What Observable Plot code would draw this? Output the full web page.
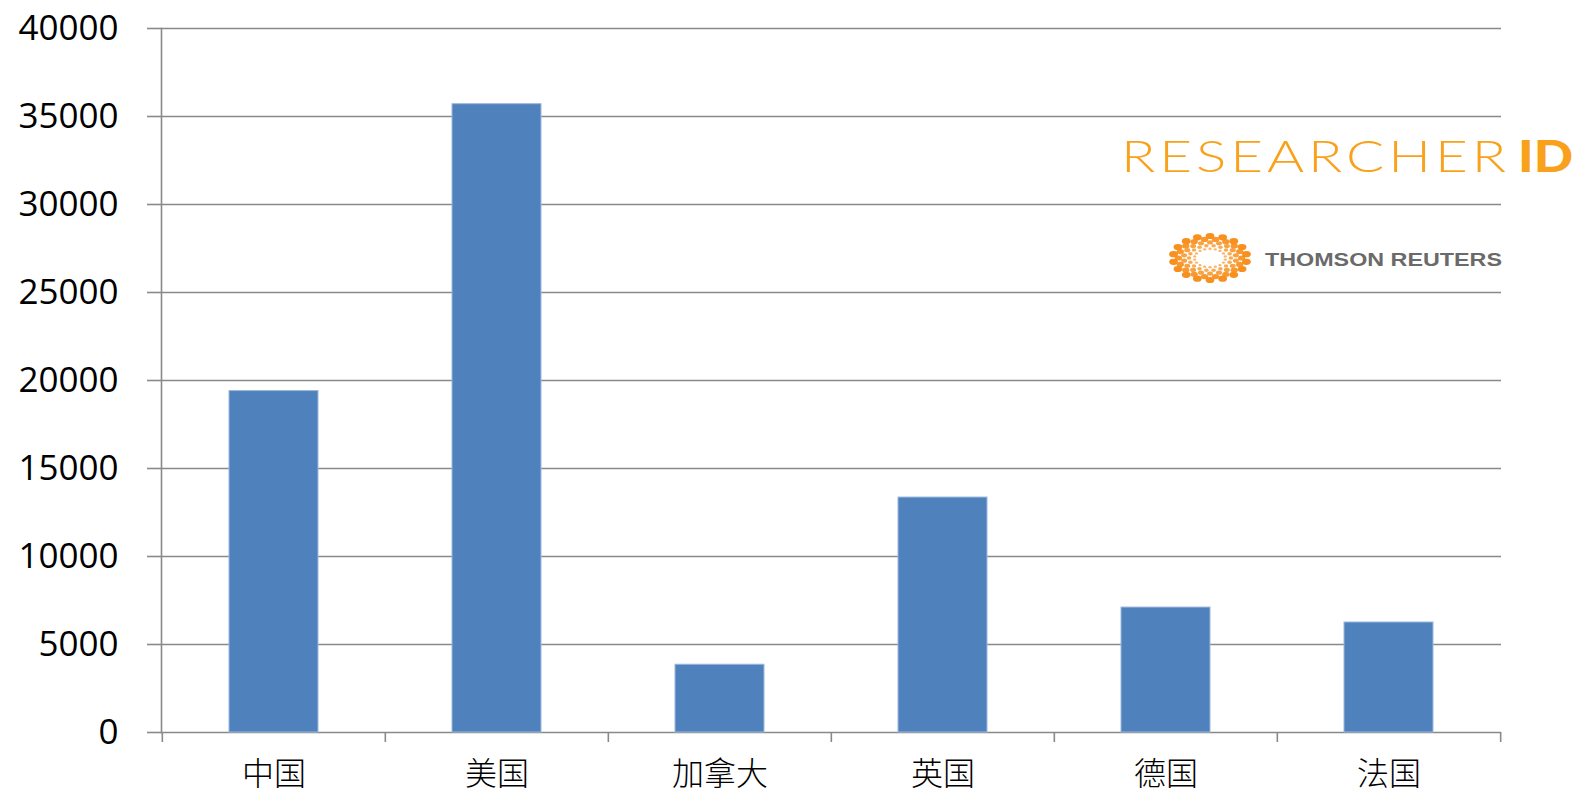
<!DOCTYPE html>
<html>
<head>
<meta charset="utf-8">
<script src="https://cdn.jsdelivr.net/npm/d3@7"></script>
<script src="https://cdn.jsdelivr.net/npm/@observablehq/plot@0.6"></script>
<style>
  html, body { margin: 0; padding: 0; background: #fff; }
  #wrap { position: relative; width: 1577px; height: 796px; overflow: hidden; }
  #logo { position: absolute; left: 0; top: 0; pointer-events: none; }
</style>
</head>
<body>
<div id="wrap"></div>
<script>
const categories = ["中国", "美国", "加拿大", "英国", "德国", "法国"];
const values = [19400, 35700, 3850, 13350, 7100, 6250];
const yTicks = [0, 5000, 10000, 15000, 20000, 25000, 30000, 35000, 40000];

const data = categories.map((c, i) => ({cat: c, value: values[i]}));

const W = 1577, H = 796, mL = 161, mR = 76, mT = 28, mB = 64;
const step = (W - mL - mR) / categories.length;
const grey = "#898989";

const chart = Plot.plot({
  width: W, height: H,
  marginLeft: mL, marginRight: mR, marginTop: mT, marginBottom: mB,
  style: {background: "white", fontFamily: "'Open Sans', 'Liberation Sans', sans-serif", color: "black"},
  x: {domain: categories, paddingInner: 0.6, paddingOuter: 0.3, label: null},
  y: {domain: [0, 40000], ticks: yTicks, label: null},
  marks: [
    Plot.gridY(yTicks, {stroke: grey, strokeOpacity: 1, strokeWidth: 1.6}),
    Plot.barY(data, {x: "cat", y: "value", fill: "#4F81BD", stroke: "#9cb8dc", strokeWidth: 1}),
    Plot.axisY(yTicks, {tickSize: 14, tickPadding: 29, stroke: grey, strokeWidth: 1.6, fill: "black",
      fontSize: 35, tickFormat: d => String(d), label: null}),
    Plot.frame({anchor: "left", stroke: grey, strokeWidth: 1.6}),
    Plot.ruleX(categories, {x: d => d, dx: -step / 2, y1: 0, y2: 0, insetBottom: -10, stroke: grey, strokeWidth: 1.6}),
    Plot.ruleX([categories[categories.length - 1]], {x: d => d, dx: step / 2, y1: 0, y2: 0, insetBottom: -10, stroke: grey, strokeWidth: 1.6}),
    Plot.axisX({tickSize: 0, tickPadding: 30, fontSize: 32, fontWeight: 300, fill: "black",
      fontFamily: "'Noto Sans CJK SC', sans-serif", label: null})
  ]
});
document.getElementById("wrap").appendChild(chart);

// Logo overlay (decoration)
const logo = d3.select("#wrap").append("svg")
  .attr("id", "logo").attr("width", W).attr("height", H);
const orange = "#F9A11B";
logo.append("text")
  .attr("x", 1121).attr("y", 172)
  .attr("font-family", "Lato, 'Open Sans', sans-serif")
  .attr("font-size", 43).attr("font-weight", 300)
  .attr("letter-spacing", 3)
  .attr("textLength", 389).attr("lengthAdjust", "spacingAndGlyphs")
  .attr("fill", orange)
  .text("RESEARCHER");
logo.append("text")
  .attr("x", 1518).attr("y", 172)
  .attr("font-family", "Lato, 'Open Sans', sans-serif")
  .attr("font-size", 43).attr("font-weight", 900)
  .attr("textLength", 55).attr("lengthAdjust", "spacingAndGlyphs")
  .attr("fill", orange)
  .text("ID");

logo.append("text")
  .attr("x", 1265).attr("y", 265.5)
  .attr("font-family", "'Liberation Sans', Arial, sans-serif")
  .attr("font-size", 17.5).attr("font-weight", 700)
  .attr("textLength", 237).attr("lengthAdjust", "spacingAndGlyphs")
  .attr("fill", "#6a6a6a")
  .text("THOMSON REUTERS");

// dotted ring emblem
const cx = 1210, cy = 258;
const ring = logo.append("g").attr("fill", "#F7901E");
for (let k = 1; k <= 5; k++) {
  const n = 18;
  const r = 0.42 + 0.145 * (k - 1);
  for (let j = 0; j < n; j++) {
    const a = (j + (k % 2) * 0.5) / n * 2 * Math.PI;
    ring.append("ellipse")
      .attr("cx", cx + Math.cos(a) * r * 37)
      .attr("cy", cy + Math.sin(a) * r * 22)
      .attr("rx", 0.9 + k * 0.7)
      .attr("ry", 0.7 + k * 0.48)
      .attr("opacity", 0.6 + k * 0.08);
  }
}
</script>
</body>
</html>
